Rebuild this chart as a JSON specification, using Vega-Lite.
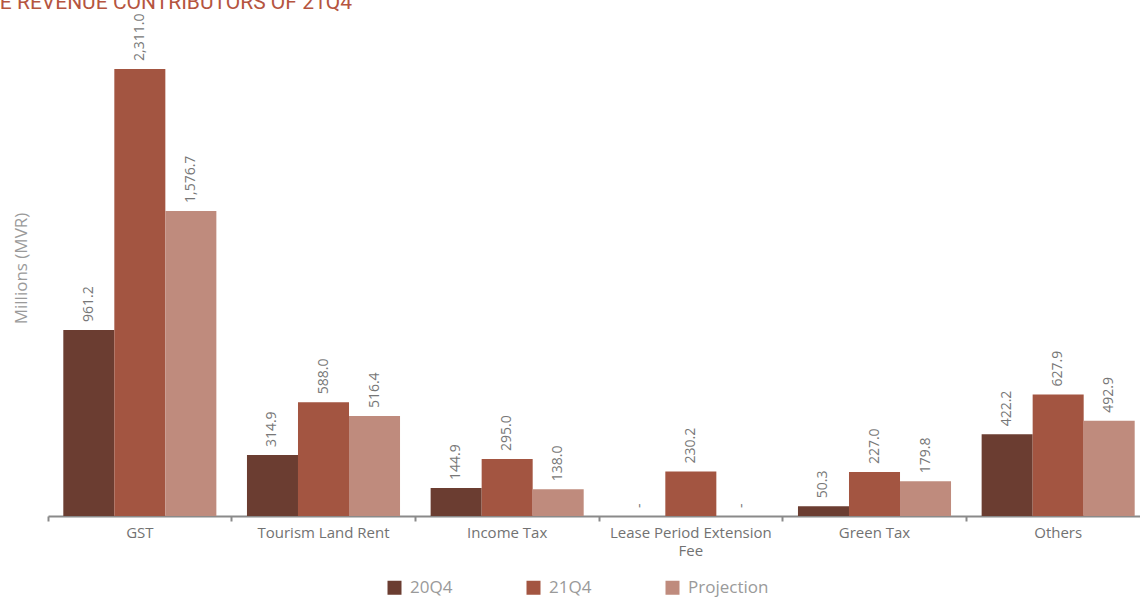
{
  "$schema": "https://vega.github.io/schema/vega-lite/v6.json",
  "width": 1092,
  "height": 496,
  "autosize": {"type": "none"},
  "padding": {"left": 48, "top": 20, "right": 0, "bottom": 83},
  "background": "white",
  "view": {"stroke": null},
  "title": {
    "text": "TOP FIVE REVENUE CONTRIBUTORS OF 21Q4",
    "anchor": "start",
    "align": "right",
    "frame": "group",
    "dx": 304,
    "dy": 28,
    "offset": 12,
    "baseline": "alphabetic",
    "fontSize": 21,
    "font": "Roboto",
    "fontWeight": "normal",
    "color": "#b5553f"
  },
  "data": {
    "values": [
      {"category": "GST", "period": "20Q4", "value": 961.2, "label": "961.2"},
      {"category": "GST", "period": "21Q4", "value": 2311.0, "label": "2,311.0"},
      {"category": "GST", "period": "Projection", "value": 1576.7, "label": "1,576.7"},
      {"category": "Tourism Land Rent", "period": "20Q4", "value": 314.9, "label": "314.9"},
      {"category": "Tourism Land Rent", "period": "21Q4", "value": 588.0, "label": "588.0"},
      {"category": "Tourism Land Rent", "period": "Projection", "value": 516.4, "label": "516.4"},
      {"category": "Income Tax", "period": "20Q4", "value": 144.9, "label": "144.9"},
      {"category": "Income Tax", "period": "21Q4", "value": 295.0, "label": "295.0"},
      {"category": "Income Tax", "period": "Projection", "value": 138.0, "label": "138.0"},
      {"category": "Lease Period Extension Fee", "period": "20Q4", "value": 0, "label": "-"},
      {"category": "Lease Period Extension Fee", "period": "21Q4", "value": 230.2, "label": "230.2"},
      {"category": "Lease Period Extension Fee", "period": "Projection", "value": 0, "label": "-"},
      {"category": "Green Tax", "period": "20Q4", "value": 50.3, "label": "50.3"},
      {"category": "Green Tax", "period": "21Q4", "value": 227.0, "label": "227.0"},
      {"category": "Green Tax", "period": "Projection", "value": 179.8, "label": "179.8"},
      {"category": "Others", "period": "20Q4", "value": 422.2, "label": "422.2"},
      {"category": "Others", "period": "21Q4", "value": 627.9, "label": "627.9"},
      {"category": "Others", "period": "Projection", "value": 492.9, "label": "492.9"}
    ]
  },
  "encoding": {
    "x": {
      "field": "category",
      "type": "nominal",
      "sort": null,
      "scale": {"paddingInner": 0, "paddingOuter": 0, "range": [0, 1102]},
      "axis": {
        "title": null,
        "labelAngle": 0,
        "bandPosition": 0,
        "labelFontSize": 15,
        "labelFont": "Open Sans",
        "labelColor": "#727272",
        "labelPadding": 4,
        "labelLineHeight": 18,
        "labelExpr": "datum.label == 'Lease Period Extension Fee' ? ['Lease Period Extension', 'Fee'] : datum.label",
        "domainColor": "#8a8a8a",
        "domainWidth": 2,
        "tickColor": "#8a8a8a",
        "tickWidth": 2,
        "tickSize": 5,
        "grid": false
      }
    },
    "xOffset": {
      "field": "period",
      "type": "nominal",
      "sort": ["20Q4", "21Q4", "Projection"],
      "scale": {"paddingInner": 0, "paddingOuter": 0.3}
    },
    "y": {
      "field": "value",
      "type": "quantitative",
      "scale": {"domain": [0, 2564], "nice": false},
      "axis": {
        "title": "Millions (MVR)",
        "titleFont": "Open Sans",
        "titleFontWeight": "normal",
        "titleFontSize": 17,
        "titleColor": "#9a9a9a",
        "titlePadding": 18,
        "labels": false,
        "ticks": false,
        "domain": false,
        "grid": false
      }
    }
  },
  "layer": [
    {
      "mark": {"type": "bar"},
      "encoding": {
        "color": {
          "field": "period",
          "type": "nominal",
          "sort": ["20Q4", "21Q4", "Projection"],
          "scale": {"domain": ["20Q4", "21Q4", "Projection"], "range": ["#6b3d31", "#a35541", "#bf8b7d"]},
          "legend": {
            "title": null,
            "orient": "none",
            "legendX": 338,
            "legendY": 559,
            "direction": "horizontal",
            "symbolType": "square",
            "symbolSize": 196,
            "symbolStrokeWidth": 0,
            "labelFont": "Open Sans",
            "labelFontSize": 17,
            "labelColor": "#9a9a9a",
            "labelOffset": 7,
            "columnPadding": 72
          }
        }
      }
    },
    {
      "mark": {
        "type": "text",
        "angle": -90,
        "align": "left",
        "baseline": "middle",
        "dx": 8,
        "font": "Open Sans",
        "fontSize": 14,
        "color": "#777777"
      },
      "encoding": {
        "text": {"field": "label"}
      }
    }
  ]
}
